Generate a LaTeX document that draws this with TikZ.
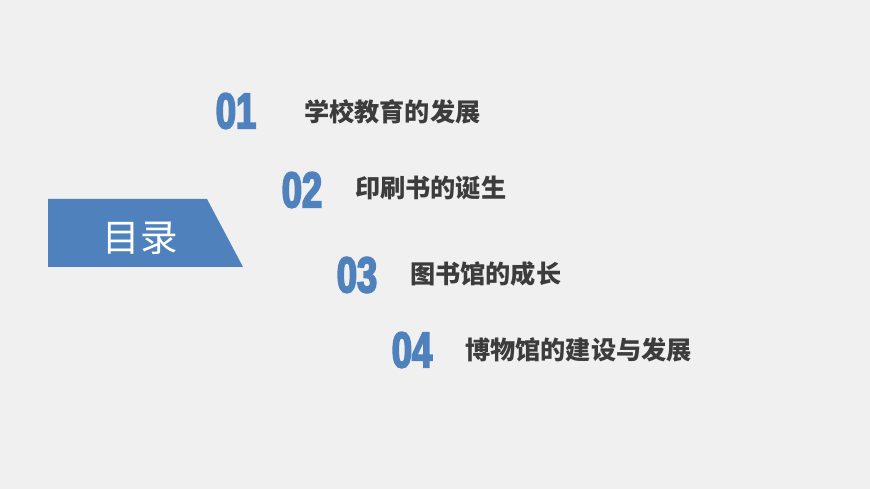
\documentclass[tikz,border=0pt]{standalone}
\usepackage{fontspec}
\newfontfamily\cjk{Noto Sans CJK SC}
\newfontfamily\numfont[FakeStretch=0.72,FakeBold=3.5]{Liberation Sans Bold}
\definecolor{bgGray}{HTML}{F0F0F0}
\definecolor{tocBlue}{HTML}{4F81BD}
\definecolor{itemGray}{HTML}{3C3C3C}
\tikzset{
  numtext/.style={text=tocBlue, font=\numfont\fontsize{43}{43}\selectfont, inner sep=0pt},
  itemtext/.style={text=itemGray, font=\cjk\bfseries\fontsize{21.5}{21.5}\selectfont, anchor=west, inner sep=0pt}
}
\begin{document}
\begin{tikzpicture}[x=0.03cm, y=-0.03cm]
		%%%%% background %%%%%
		\fill[bgGray] (0, 0) rectangle (870, 489);
		\useasboundingbox (0, 0) rectangle (870, 489);
		
		%%%%% banner %%%%%
		\fill[tocBlue] (48, 199) -- (207, 199) -- (243, 267) -- (48, 267) -- cycle;
		\node[text=white, font=\cjk\fontsize{32}{32}\selectfont, inner sep=0pt] (title) at (140, 238) {目录};
		
		%%%%% items %%%%%
		\node[numtext] (n1) at (236, 111) {01};
		\node[itemtext] (t1) at (304, 112) {学校教育的发展};
		
		\node[numtext] (n2) at (302, 190) {02};
		\node[itemtext] (t2) at (355, 188) {印刷书的诞生};
		
		\node[numtext] (n3) at (357, 275) {03};
		\node[itemtext] (t3) at (410, 274) {图书馆的成长};
		
		\node[numtext] (n4) at (412, 350) {04};
		\node[itemtext] (t4) at (465, 350) {博物馆的建设与发展};
	\end{tikzpicture}
\end{document}
